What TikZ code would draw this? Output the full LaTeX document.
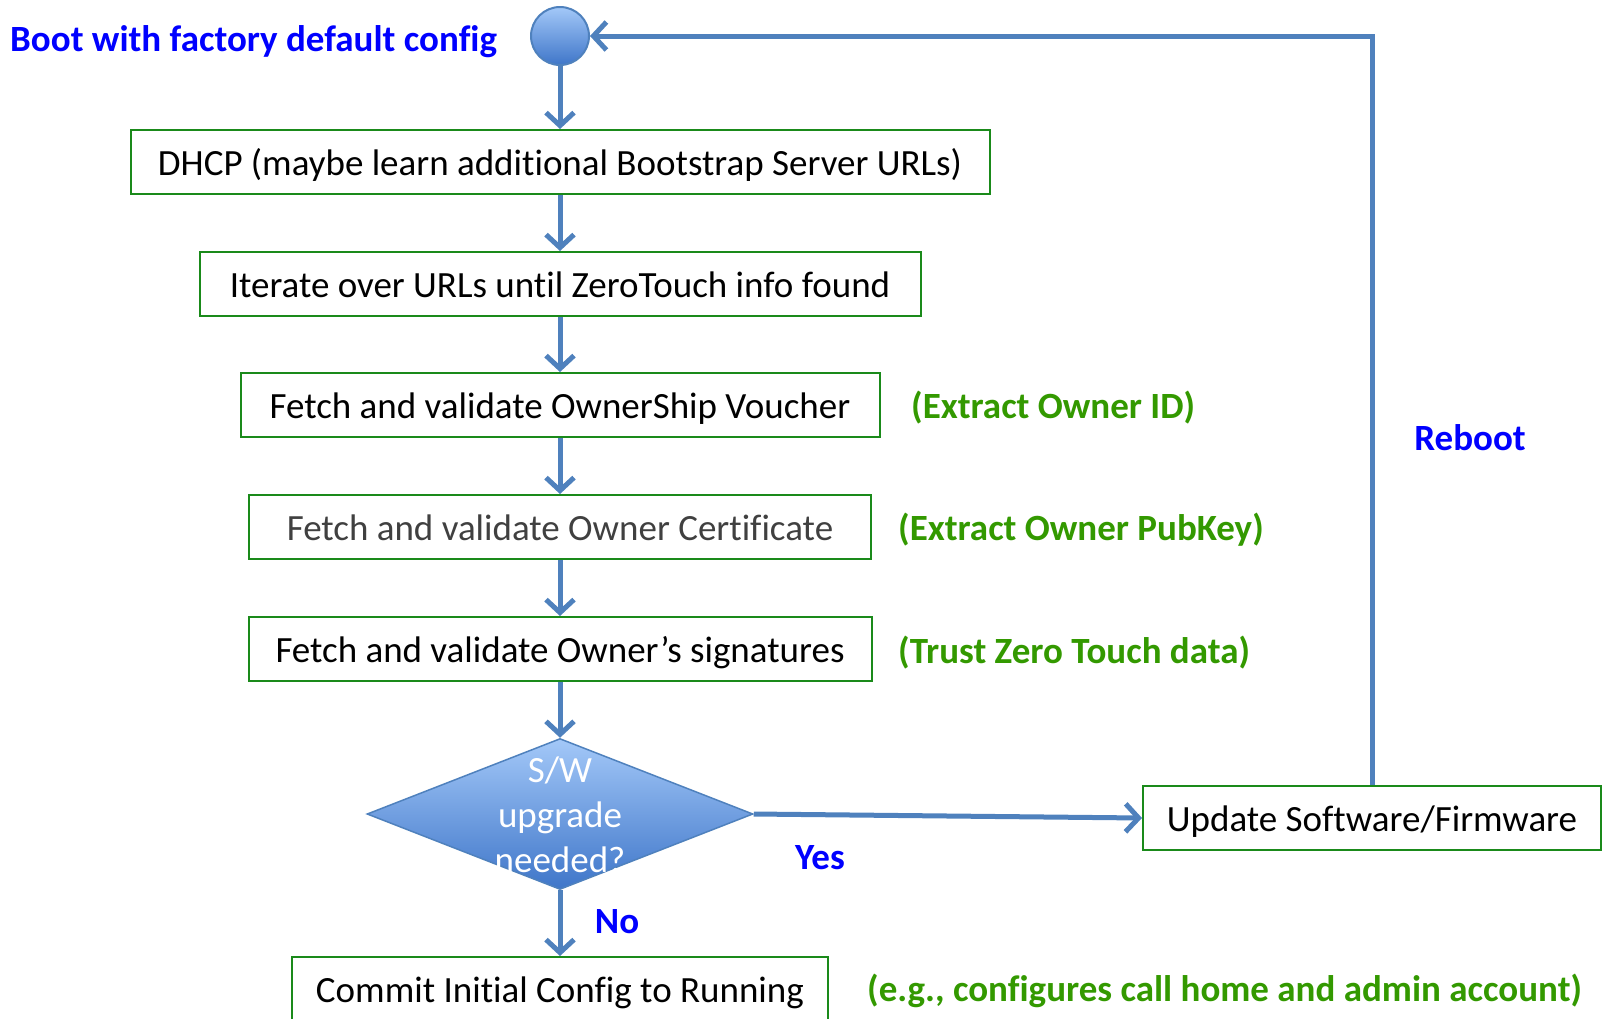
\documentclass[tikz,border=0pt]{standalone}
\usepackage{fontspec}
\setmainfont{Carlito}[RawFeature={-liga;-clig;-calt;-dlig}]
\usetikzlibrary{arrows.meta,shapes.geometric}
\definecolor{arr}{HTML}{4F81BD}
\definecolor{boxg}{HTML}{1A8A1A}
\definecolor{lblg}{HTML}{339900}
\definecolor{lblb}{HTML}{0000FF}
\definecolor{shtop}{HTML}{A3C8F8}
\definecolor{shbot}{HTML}{3F76C9}
\begin{document}
\begin{tikzpicture}[x=1pt,y=-1pt,
 box/.style={draw=boxg, line width=2pt, minimum height=64pt, inner sep=0pt, text height=30pt, text depth=4pt, font=\fontsize{37}{44}\selectfont},
 flow/.style={draw=arr, line width=5pt, -{Straight Barb[length=13pt,width=28pt]}},
 glbl/.style={text=lblg, font=\fontsize{37}{44}\selectfont\bfseries, anchor=west, inner sep=0pt},
 blbl/.style={text=lblb, font=\fontsize{37}{44}\selectfont\bfseries, inner sep=0pt},
]
\useasboundingbox (0,0) rectangle (1604,1018);
\node[circle, minimum size=58pt, inner sep=0pt, draw=arr, line width=2pt, top color=shtop, bottom color=shbot] (start) at (560,36) {};
\node[blbl, anchor=west] (bootlbl) at (10,42) {Boot with factory default config};
\node[box, minimum width=859pt] (dhcp) at (560,162) {DHCP (maybe learn additional Bootstrap Server URLs)};
\node[box, minimum width=721pt] (iter) at (560,284) {Iterate over URLs until ZeroTouch info found};
\node[box, minimum width=639pt] (voucher) at (560,405) {Fetch and validate OwnerShip Voucher};
\node[box, minimum width=622pt, text=black!75] (cert) at (560,527) {Fetch and validate Owner Certificate};
\node[box, minimum width=623pt] (sig) at (560,649) {Fetch and validate Owner’s signatures};
\node[diamond, draw=arr, line width=1.5pt, minimum width=386pt, minimum height=151pt, inner sep=0pt, top color=shtop, bottom color=shbot] (dia) at (560,814) {};
\node[text=white, align=center, font=\fontsize{37}{45}\selectfont] (diatext) at (560,815) {S/W\\upgrade\\needed?};
\node[box, minimum width=458pt] (upd) at (1372,818) {Update Software/Firmware};
\node[box, minimum width=536pt] (commit) at (560,989) {Commit Initial Config to Running};
\node[glbl] (l1) at (911,408) {(Extract Owner ID)};
\node[glbl] (l2) at (898,530) {(Extract Owner PubKey)};
\node[glbl] (l3) at (898,653) {(Trust Zero Touch data)};
\node[glbl] (l4) at (867,991) {(e.g., configures call home and admin account)};
\node[blbl] (reboot) at (1470,438) {Reboot};
\node[blbl] (yes) at (820,858) {Yes};
\node[blbl] (no) at (617,922) {No};
\draw[flow] (start) -- (dhcp);
\draw[flow] (dhcp) -- (iter);
\draw[flow] (iter) -- (voucher);
\draw[flow] (voucher) -- (cert);
\draw[flow] (cert) -- (sig);
\draw[flow] (sig) -- (dia.north);
\draw[flow] (dia.south) -- (commit.north);
\draw[flow] (dia.east) -- (upd.west);
\coordinate (loopx) at (1372,36);
\draw[flow] (upd.north -| loopx) |- (start.east);
\end{tikzpicture}
\end{document}
